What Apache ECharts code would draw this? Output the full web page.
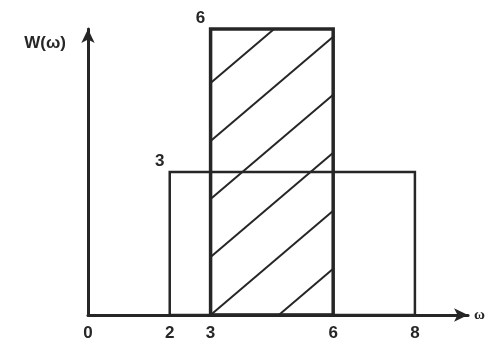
<!DOCTYPE html>
<html>
<head>
<meta charset="utf-8">
<script src="https://cdn.jsdelivr.net/npm/echarts@6/dist/echarts.min.js"></script>
<style>
  html, body { margin: 0; padding: 0; background: #ffffff; }
  #chart { width: 488px; height: 347px; }
</style>
</head>
<body>
<div id="chart"></div>
<script>
// x tick labels shown under the axis
var tickValues = [0, 2, 3, 6, 8];

// rectangles: start, end, height, hatched or not
var rectStart = [2, 3];
var rectEnd = [8, 6];
var rectHeight = [3, 6];
var rectHatched = [0, 1];

var axisName = 'W(ω)';
var xName = 'ω';

var ink = '#262626';

var rectData = [];
for (var i = 0; i < rectStart.length; i++) {
  rectData.push([rectStart[i], rectEnd[i], rectHeight[i], rectHatched[i]]);
}

// hatch lines going up-right, clipped to the box
function hatchLines(xl, xr, yt, yb, slope, gap) {
  var out = [];
  var w = xr - xl;
  var kMin = -Math.floor(slope * w / gap);
  var kMax = Math.floor((yb - yt) / gap);
  for (var k = kMin; k <= kMax; k++) {
    var c = yb - k * gap;
    var xa = Math.max(xl, xl + (c - yb) / slope);
    var xb = Math.min(xr, xl + (c - yt) / slope);
    if (xb - xa > 1) {
      out.push({
        type: 'line',
        shape: { x1: xa, y1: c - slope * (xa - xl), x2: xb, y2: c - slope * (xb - xl) },
        style: { stroke: ink, lineWidth: 2 }
      });
    }
  }
  return out;
}

function renderRect(params, api) {
  var p0 = api.coord([api.value(0), 0]);
  var p1 = api.coord([api.value(1), api.value(2)]);
  var hatched = api.value(3) === 1;
  var xl = p0[0], xr = p1[0], yb = p0[1], yt = p1[1];
  var children = [];
  if (hatched) {
    children = children.concat(hatchLines(xl, xr, yt, yb, 0.85, 58));
  }
  children.push({
    type: 'rect',
    shape: { x: xl, y: yt, width: xr - xl, height: yb - yt },
    style: { fill: 'none', stroke: ink, lineWidth: hatched ? 3.5 : 2.5 }
  });
  children.push({
    type: 'text',
    x: xl - 10,
    y: yt - 11,
    style: {
      text: String(api.value(2)),
      fill: ink,
      font: 'bold 17px "Liberation Sans", Arial, sans-serif',
      align: 'center',
      verticalAlign: 'middle'
    }
  });
  return { type: 'group', children: children };
}

var chart = echarts.init(document.getElementById('chart'));
chart.setOption({
  backgroundColor: '#ffffff',
  animation: false,
  grid: { left: 88, right: 16, top: 29, bottom: 32 },
  xAxis: {
    type: 'value',
    min: 0,
    max: 9.3,
    interval: 1,
    name: xName,
    nameLocation: 'end',
    nameGap: 6,
    nameTextStyle: { color: ink, fontSize: 15, fontWeight: 'bold', fontFamily: 'Liberation Serif', verticalAlign: 'middle', padding: [6, 0, 0, 0] },
    axisLine: { lineStyle: { color: ink, width: 3 }, symbol: ['none', 'arrow'], symbolSize: [10, 14] },
    axisTick: { show: false },
    splitLine: { show: false },
    axisLabel: {
      margin: 10,
      color: ink,
      fontSize: 17,
      fontWeight: 'bold',
      fontFamily: 'Liberation Sans',
      showMaxLabel: false,
      formatter: function (v) { return tickValues.indexOf(v) >= 0 ? String(v) : ''; }
    }
  },
  yAxis: {
    type: 'value',
    min: 0,
    max: 6,
    name: axisName,
    nameLocation: 'end',
    nameGap: -14,
    nameTextStyle: {
      color: ink, fontSize: 17, fontWeight: 'bold', fontFamily: 'Liberation Sans',
      align: 'right', verticalAlign: 'middle', padding: [0, 22, 0, 0]
    },
    axisLine: { lineStyle: { color: ink, width: 3 }, symbol: ['none', 'arrow'], symbolSize: [10, 14] },
    axisTick: { show: false },
    axisLabel: { show: false },
    splitLine: { show: false }
  },
  series: [{
    type: 'custom',
    renderItem: renderRect,
    data: rectData,
    clip: false,
    z: 1
  }]
});
</script>
</body>
</html>
